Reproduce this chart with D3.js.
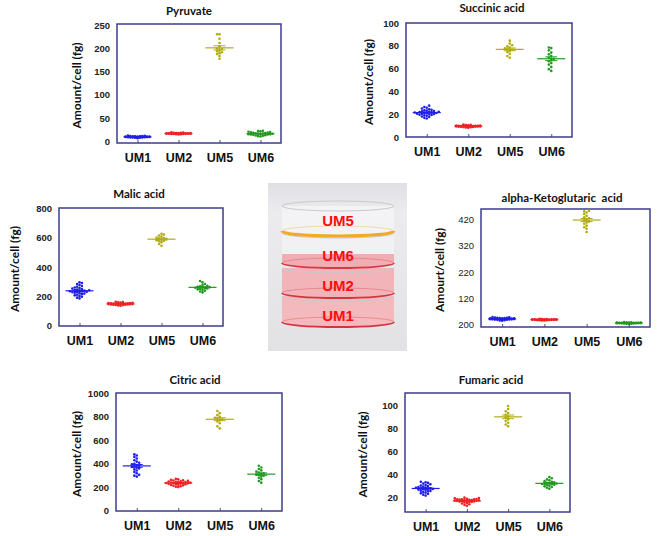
<!DOCTYPE html>
<html lang="en">
<head>
<meta charset="UTF-8">
<title>Metabolite amount per cell</title>
<script src="https://d3js.org/d3.v7.min.js"></script>
<style>
  body { margin: 0; background: #fff; font-family: Lato, "Open Sans", Arial, sans-serif; }
  .title { font-size: 11.5px; font-weight: bold; fill: #111; white-space: pre; }
  .tick-label { font-size: 9.5px; font-weight: bold; fill: #222; }
  .tick-label.light { font-weight: normal; }
  .cat-label { font-size: 12.5px; font-weight: bold; fill: #111; }
  .y-title { font-size: 12px; font-weight: bold; fill: #111; }
  .dish-label { font-family: "Liberation Sans", Arial, sans-serif; font-size: 15px; font-weight: bold; fill: #ff0d0d; }
</style>
</head>
<body>
<svg id="chart" width="657" height="536"></svg>
<script>
// strains on every x axis
const groups = ["UM1", "UM2", "UM5", "UM6"];

// Pyruvate
const pyrUM1 = [6.5, 7.2, 7.8, 8.0, 8.3, 8.5, 8.7, 8.9, 9.0, 9.1, 9.2, 9.4, 9.5, 9.6, 9.8, 10.0, 10.2, 10.4, 10.6, 11.0, 11.5, 8.1, 8.8, 9.3, 9.7, 10.1, 7.5, 9.9, 10.8, 12.0];
const pyrUM2 = [14.2, 14.8, 15.1, 15.4, 15.6, 15.8, 16.0, 16.1, 16.2, 16.4, 16.5, 16.6, 16.8, 17.0, 17.1, 17.3, 17.5, 17.8, 18.1, 18.5, 19.0, 15.9, 16.3, 16.7, 16.9, 17.2, 15.3, 17.6];
const pyrUM5 = [231, 231, 221, 212, 205, 199, 196, 194, 192, 190, 188, 184, 178, 200];
const pyrUM6 = [10.2, 10.8, 11.5, 12.3, 13.0, 13.6, 14.2, 14.8, 15.1, 15.5, 15.9, 16.2, 16.6, 17.0, 17.4, 17.8, 18.3, 18.9, 19.5, 20.3, 21.2, 22.0, 22.6, 14.5];

// Succinic acid
const sucUM1 = [16.2, 16.8, 17.5, 18.0, 18.6, 19.0, 19.4, 19.8, 20.1, 20.5, 20.8, 21.0, 21.3, 21.6, 21.9, 22.2, 22.5, 22.8, 23.1, 23.5, 23.9, 24.4, 25.0, 25.6, 26.3, 27.5, 20.3, 21.5, 22.0, 19.6];
const sucUM2 = [8.1, 8.4, 8.6, 8.8, 8.9, 9.0, 9.1, 9.2, 9.3, 9.4, 9.5, 9.5, 9.6, 9.7, 9.8, 9.9, 10.0, 10.1, 10.2, 10.4, 10.6, 10.9, 9.3, 9.6, 9.8, 8.7];
const sucUM5 = [69.5, 71.0, 73.0, 74.5, 75.5, 76.5, 77.0, 77.5, 78.5, 79.5, 80.5, 82.0, 84.5];
const sucUM6 = [58.0, 59.5, 61.5, 63.5, 65.0, 66.5, 67.5, 68.5, 69.5, 71.0, 72.5, 74.0, 76.0, 78.0, 78.5];

// Malic acid
const malUM1 = [185, 190, 196, 202, 206, 210, 214, 218, 221, 224, 227, 230, 232, 234, 236, 238, 240, 243, 246, 249, 252, 256, 260, 265, 270, 276, 283, 290, 295, 228];
const malUM2 = [135, 137, 139, 140, 141, 142, 143, 144, 145, 146, 147, 147, 148, 149, 150, 151, 152, 153, 154, 155, 156, 158, 160, 162, 146, 150];
const malUM5 = [545, 558, 570, 576, 580, 584, 588, 591, 594, 598, 602, 608, 615, 622, 628];
const malUM6 = [226, 232, 238, 243, 247, 250, 253, 256, 258, 260, 262, 265, 268, 272, 277, 284, 295, 304];

// alpha-Ketoglutaric acid
const ketUM1 = [36, 37, 38, 39, 39.5, 40, 40.5, 41, 41.5, 42, 42, 42.5, 43, 43, 43.5, 44, 44, 44.5, 45, 45.5, 46, 46.5, 47, 48, 49, 50, 41, 43.5, 44.5, 42.5];
const ketUM2 = [36.5, 37, 37.5, 38, 38.5, 39, 39, 39.5, 39.5, 40, 40, 40, 40.5, 40.5, 41, 41, 41.5, 41.5, 42, 42.5, 43, 38.5, 39.8, 40.2, 40.8, 41.2];
const ketUM5 = [372, 384, 390, 396, 403, 408, 412, 416, 420, 424, 428, 433, 440, 446, 450, 452];
const ketUM6 = [23, 24, 24.5, 25, 25.5, 26, 26, 26.5, 26.5, 27, 27, 27, 27.5, 27.5, 28, 28, 28.5, 28.5, 29, 29.5, 30, 31, 26.8, 27.2, 27.8, 25.8];

// Citric acid
const citUM1 = [290, 298, 305, 318, 330, 342, 352, 360, 366, 372, 378, 383, 388, 394, 400, 408, 418, 430, 445, 458, 470, 480];
const citUM2 = [200, 204, 208, 212, 215, 218, 221, 224, 226, 228, 230, 232, 234, 236, 238, 240, 242, 244, 246, 248, 250, 253, 256, 259, 262, 266, 270, 235];
const citUM5 = [702, 720, 745, 762, 772, 780, 786, 792, 800, 815, 832, 850];
const citUM6 = [238, 252, 268, 280, 290, 297, 303, 308, 313, 318, 325, 333, 343, 355, 368, 382];

// Fumaric acid
const fumUM1 = [22, 22.8, 23.5, 24, 24.6, 25.2, 25.8, 26.3, 26.8, 27.2, 27.6, 28, 28.3, 28.6, 29, 29.4, 29.8, 30.2, 30.7, 31.2, 31.8, 32.4, 33, 33.6, 34, 27.8, 28.8, 26];
const fumUM2 = [13.2, 13.8, 14.5, 15.1, 15.6, 16, 16.4, 16.8, 17, 17.2, 17.5, 17.7, 17.9, 18.1, 18.3, 18.5, 18.7, 18.9, 19.1, 19.3, 19.6, 19.9, 20.2, 17.4, 17.8, 18.2, 16.6, 18.8];
const fumUM5 = [82, 83.5, 85, 86.5, 88, 89.5, 90.5, 92, 93.5, 95, 97, 99.5];
const fumUM6 = [28, 28.8, 29.5, 30, 30.5, 31, 31.4, 31.8, 32.2, 32.5, 32.8, 33.1, 33.5, 34, 34.5, 35.2, 36, 37, 38, 32];

// axis ticks (the alpha-KG panel prints "200" at its bottom tick, as in the figure)
const pyrTicks = [0, 50, 100, 150, 200, 250];
const sucTicks = [0, 20, 40, 60, 80, 100];
const malTicks = [0, 200, 400, 600, 800];
const ketTicks = [20, 120, 220, 320, 420];
const ketTickLabels = ["200", "120", "220", "320", "420"];
const citTicks = [0, 200, 400, 600, 800, 1000];
const fumTicks = [20, 40, 60, 80, 100];

const panels = [
  { title: "Pyruvate", yTitle: "Amount/cell (fg)", domain: [-4, 253], ticks: pyrTicks, values: [pyrUM1, pyrUM2, pyrUM5, pyrUM6] },
  { title: "Succinic acid", yTitle: "Amount/cell (fg)", domain: [0, 100], ticks: sucTicks, values: [sucUM1, sucUM2, sucUM5, sucUM6] },
  { title: "Malic acid", yTitle: "Amount/cell (fg)", domain: [-4, 804], ticks: malTicks, values: [malUM1, malUM2, malUM5, malUM6] },
  { title: "alpha-Ketoglutaric  acid", yTitle: "Amourt/cell (fg)", domain: [12, 459], ticks: ketTicks, tickLabels: ketTickLabels, light: true, values: [ketUM1, ketUM2, ketUM5, ketUM6] },
  { title: "Citric acid", yTitle: "Amount/cell (fg)", domain: [-4, 1004], ticks: citTicks, values: [citUM1, citUM2, citUM5, citUM6] },
  { title: "Fumaric acid", yTitle: "Amount/cell (fg)", domain: [7.8, 110.8], ticks: fumTicks, values: [fumUM1, fumUM2, fumUM5, fumUM6] }
];

// where each panel sits on the page
const layout = [
  { x0: 117, x1: 281, y0: 24, y1: 143, titleX: 189, titleY: 15, yTitleX: 77 },
  { x0: 406, x1: 572, y0: 23, y1: 137, titleX: 492, titleY: 12, yTitleX: 369 },
  { x0: 59, x1: 223, y0: 208, y1: 326, titleX: 139, titleY: 198, yTitleX: 15 },
  { x0: 481, x1: 650, y0: 209, y1: 327, titleX: 562, titleY: 202, yTitleX: 440 },
  { x0: 116, x1: 282, y0: 393, y1: 511, titleX: 195, titleY: 384, yTitleX: 77 },
  { x0: 405, x1: 570, y0: 393, y1: 512, titleX: 491, titleY: 384, yTitleX: 363 }
];

const color = d3.scaleOrdinal().domain(groups).range(["#1f1fe6", "#ee2222", "#b0ac10", "#229a22"]);

const svg = d3.select("#chart");

// lay points out side by side when their values collide
function swarm(vals, y, r, maxHalf) {
  const placed = [];
  const sorted = vals.slice().sort((a, b) => a - b);
  const d = r * 2;
  sorted.forEach(v => {
    const py = y(v);
    let best = 0, bestDist = -1;
    for (let k = 0; k <= 20; k++) {
      const off = (k % 2 === 0 ? 1 : -1) * Math.ceil(k / 2) * d;
      if (Math.abs(off) > maxHalf) continue;
      let minD = Infinity;
      placed.forEach(p => {
        const dd = Math.hypot(p.dx - off, p.py - py);
        if (dd < minD) minD = dd;
      });
      if (minD >= d) { best = off; bestDist = Infinity; break; }
      if (minD > bestDist) { bestDist = minD; best = off; }
    }
    placed.push({ v, py, dx: best });
  });
  return placed;
}

panels.forEach((p, i) => {
  const L = layout[i];
  const g = svg.append("g");

  const x = d3.scalePoint().domain(groups).range([L.x0, L.x1]).padding(0.5);
  const y = d3.scaleLinear().domain(p.domain).range([L.y1, L.y0]);

  g.append("text").attr("class", "title")
    .attr("x", L.titleX).attr("y", L.titleY)
    .attr("text-anchor", "middle").text(p.title);

  g.append("text").attr("class", "y-title")
    .attr("transform", `translate(${L.yTitleX},${(L.y0 + L.y1) / 2 + 2}) rotate(-90)`)
    .attr("text-anchor", "middle").attr("dy", "0.35em").text(p.yTitle);

  // y axis: labels only, no tick marks
  const yAxis = d3.axisLeft(y).tickValues(p.ticks).tickSize(0).tickPadding(7)
    .tickFormat((d, k) => p.tickLabels ? p.tickLabels[k] : d);
  const ya = g.append("g").attr("transform", `translate(${L.x0},0)`).call(yAxis);
  ya.select(".domain").remove();
  ya.selectAll("text").attr("class", p.light ? "tick-label light" : "tick-label")
    .attr("font-family", null).attr("font-size", null);

  // x axis: small inward ticks and strain labels
  const xAxis = d3.axisBottom(x).tickSize(-3).tickPadding(10);
  const xa = g.append("g").attr("transform", `translate(0,${L.y1})`).call(xAxis);
  xa.select(".domain").remove();
  xa.selectAll("line").attr("stroke", "#555");
  xa.selectAll("text").attr("class", "cat-label")
    .attr("font-family", null).attr("font-size", null);

  // frame
  g.append("rect")
    .attr("x", L.x0).attr("y", L.y0)
    .attr("width", L.x1 - L.x0).attr("height", L.y1 - L.y0)
    .attr("fill", "none").attr("stroke", "#3c3c8c").attr("stroke-width", 1.5);

  p.values.forEach((vals, j) => {
    const name = groups[j];
    const cx = x(name);
    const c = color(name);
    const pts = swarm(vals, y, 1.2, 13);

    g.append("g").selectAll("circle").data(pts).join("circle")
      .attr("cx", d => cx + d.dx).attr("cy", d => d.py)
      .attr("r", 1.3).attr("fill", c);

    const mean = d3.mean(vals);
    const sem = d3.deviation(vals) / Math.sqrt(vals.length);

    g.append("line").attr("x1", cx - 14).attr("x2", cx + 14)
      .attr("y1", y(mean)).attr("y2", y(mean))
      .attr("stroke", c).attr("stroke-width", 1.2);
    g.append("line").attr("x1", cx).attr("x2", cx)
      .attr("y1", y(mean - sem)).attr("y2", y(mean + sem))
      .attr("stroke", c).attr("stroke-width", 1);
    [mean - sem, mean + sem].forEach(v => {
      g.append("line").attr("x1", cx - 6).attr("x2", cx + 6)
        .attr("y1", y(v)).attr("y2", y(v))
        .attr("stroke", c).attr("stroke-width", 1);
    });
  });
});

// the photo of the stacked culture dishes, drawn as shapes
const dishes = [
  { name: "UM1", top: 296, bottom: 322, body: "#f4b9bd", rim: "#d9323f", labelY: 321 },
  { name: "UM2", top: 268, bottom: 293, body: "#f3b4b9", rim: "#d6343f", labelY: 291 },
  { name: "UM6", top: 233, bottom: 263, body: "#f1f0f3", rim: "#d63a46", labelY: 261 },
  { name: "UM5", top: 206, bottom: 231, body: "#f3f2f4", rim: "#eeac26", labelY: 226 }
];

const defs = svg.append("defs");
const bg = defs.append("linearGradient").attr("id", "photoBg").attr("x1", 0).attr("x2", 0).attr("y1", 0).attr("y2", 1);
bg.append("stop").attr("offset", "0%").attr("stop-color", "#e0e0e4");
bg.append("stop").attr("offset", "18%").attr("stop-color", "#ececef");
bg.append("stop").attr("offset", "100%").attr("stop-color", "#e2e2e5");

const photo = svg.append("g");
photo.append("rect").attr("x", 268).attr("y", 183).attr("width", 139).attr("height", 168).attr("fill", "url(#photoBg)");

const cxDish = 338, rxDish = 56, ryDish = 5;
const lowerArc = yy => `M${cxDish - rxDish},${yy} A${rxDish},${ryDish} 0 0 0 ${cxDish + rxDish},${yy}`;
const upperArc = yy => `M${cxDish - rxDish},${yy} A${rxDish},${ryDish} 0 0 1 ${cxDish + rxDish},${yy}`;

dishes.forEach(d => {
  // body with rounded front at the bottom
  photo.append("path")
    .attr("d", `M${cxDish - rxDish},${d.top} L${cxDish - rxDish},${d.bottom} A${rxDish},${ryDish} 0 0 0 ${cxDish + rxDish},${d.bottom} L${cxDish + rxDish},${d.top} Z`)
    .attr("fill", d.body);
  if (d.name === "UM6") {
    // medium sitting in the lower part of the dish
    photo.append("path")
      .attr("d", `M${cxDish - rxDish},${d.bottom - 9} L${cxDish - rxDish},${d.bottom} A${rxDish},${ryDish} 0 0 0 ${cxDish + rxDish},${d.bottom} L${cxDish + rxDish},${d.bottom - 9} Z`)
      .attr("fill", "#f0aeb4");
  }
  photo.append("path").attr("d", upperArc(d.bottom)).attr("fill", "none")
    .attr("stroke", d.rim).attr("stroke-opacity", 0.35).attr("stroke-width", 1);
  photo.append("path").attr("d", lowerArc(d.bottom)).attr("fill", "none")
    .attr("stroke", d.rim).attr("stroke-width", d.name === "UM5" ? 3 : 1.8);
  photo.append("path").attr("d", lowerArc(d.top)).attr("fill", "none")
    .attr("stroke", "#c9c9ce").attr("stroke-width", 1);
});
photo.append("path").attr("d", upperArc(dishes[3].top)).attr("fill", "none")
  .attr("stroke", "#c9c9ce").attr("stroke-width", 1);

dishes.forEach(d => {
  photo.append("text").attr("class", "dish-label")
    .attr("x", cxDish).attr("y", d.labelY)
    .attr("text-anchor", "middle").text(d.name);
});
</script>
</body>
</html>
